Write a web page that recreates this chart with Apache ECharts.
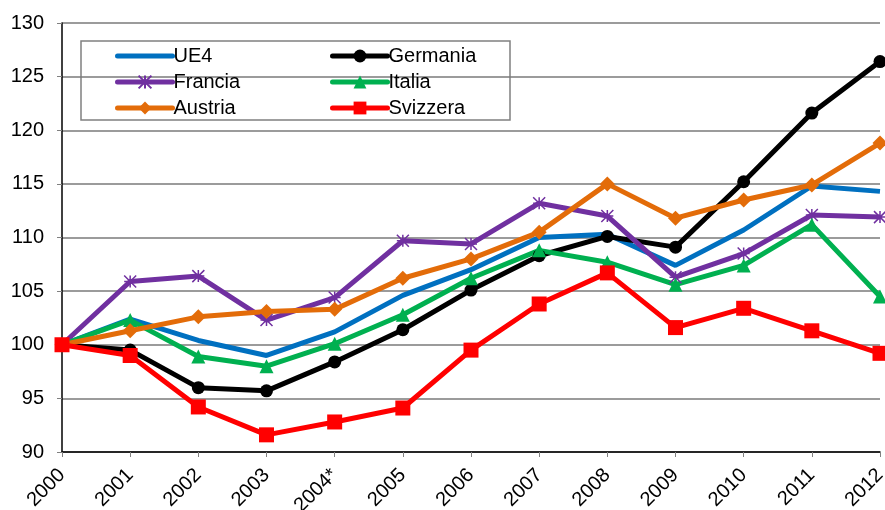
<!DOCTYPE html>
<html><head><meta charset="utf-8">
<script src="https://cdn.jsdelivr.net/npm/echarts@6/dist/echarts.min.js"></script>
<style>html,body{margin:0;padding:0;background:#fff}#c{width:885px;height:510px}</style>
</head><body><div id="c"></div>
<script>
const years = ['2000','2001','2002','2003','2004*','2005','2006','2007','2008','2009','2010','2011','2012'];
const ue4      = [100,102.4,100.4,99.0,101.2,104.6,107.0,110.0,110.3,107.4,110.7,114.8,114.3];
const germania = [100,99.5,96.0,95.7,98.4,101.4,105.1,108.3,110.1,109.1,115.2,121.6,126.4];
const francia  = [100,105.9,106.4,102.3,104.4,109.7,109.4,113.2,112.0,106.3,108.5,112.1,111.9];
const italia   = [100,102.3,98.9,98.0,100.1,102.8,106.2,108.8,107.7,105.6,107.4,111.2,104.5];
const austria  = [100,101.3,102.6,103.1,103.3,106.2,108.0,110.5,115.0,111.8,113.5,114.9,118.8];
const svizzera = [100,99.0,94.2,91.6,92.8,94.1,99.5,103.8,106.7,101.6,103.4,101.3,99.2];
const yTicks = {min:90, max:130, interval:5};

const FONT = '"Liberation Sans", Arial, sans-serif';
const star = 'path://M5,0L5,10M0,0L10,10M10,0L0,10M0,5L10,5';

function mk(name, data, color, symbol, size, extra) {
  return Object.assign({
    name, type:'line', data, symbol, symbolSize:size, showSymbol: symbol!=='none',
    lineStyle:{color, width:5}, itemStyle:{color, borderColor:color, borderWidth:0},
    emphasis:{disabled:true}, animation:false
  }, extra||{});
}

const legendCommon = {
  orient:'vertical', top:46, padding:0, itemWidth:55, itemHeight:16, itemGap:6, selectedMode:false,
  lineStyle:{width:5, cap:'round'},
  textStyle:{fontSize:20, color:'#000', fontFamily:FONT, lineHeight:16, padding:[0,0,0,-4]}
};

const chart = echarts.init(document.getElementById('c'), null, {renderer:'canvas'});
chart.setOption({
  animation:false,
  backgroundColor:'#fff',
  textStyle:{fontFamily:FONT},
  grid:{left:62, right:5, top:23, bottom:58, containLabel:false, outerBoundsMode:'none'},
  xAxis:{
    type:'category', data:years, boundaryGap:false,
    axisLine:{show:true, lineStyle:{color:'#000', width:1.5}},
    axisTick:{show:true, length:5, inside:false, lineStyle:{color:'#808080'}},
    axisLabel:{rotate:45, fontSize:20, color:'#000', fontFamily:FONT, margin:20, interval:0},
    splitLine:{show:false}
  },
  yAxis:{
    type:'value', min:yTicks.min, max:yTicks.max, interval:yTicks.interval,
    axisLine:{show:true, lineStyle:{color:'#000', width:1.5}},
    axisTick:{show:true, length:5, lineStyle:{color:'#808080'}},
    axisLabel:{fontSize:20, color:'#000', fontFamily:FONT, margin:18},
    splitLine:{show:true, lineStyle:{color:'#7a7a7a', width:1.5}}
  },
  legend:[
    Object.assign({}, legendCommon, {left:115, data:[{name:'UE4', itemStyle:{opacity:0}},'Francia','Austria']}),
    Object.assign({}, legendCommon, {left:330, data:['Germania','Italia','Svizzera']})
  ],
  graphic:[{type:'rect', shape:{x:81, y:41, width:429, height:79}, style:{fill:'#fff', stroke:'#808080', lineWidth:1.5}, z:-1, zlevel:0}],
  series:[
    mk('UE4', ue4, '#0070C0', 'none', 0),
    mk('Germania', germania, '#000000', 'circle', 13),
    mk('Francia', francia, '#7030A0', star, 12, {itemStyle:{color:'#7030A0', borderColor:'#7030A0', borderWidth:1.5}}),
    mk('Italia', italia, '#00B050', 'triangle', 14),
    mk('Austria', austria, '#E36C09', 'diamond', 15),
    mk('Svizzera', svizzera, '#FF0000', 'rect', 15)
  ]
});
</script></body></html>
